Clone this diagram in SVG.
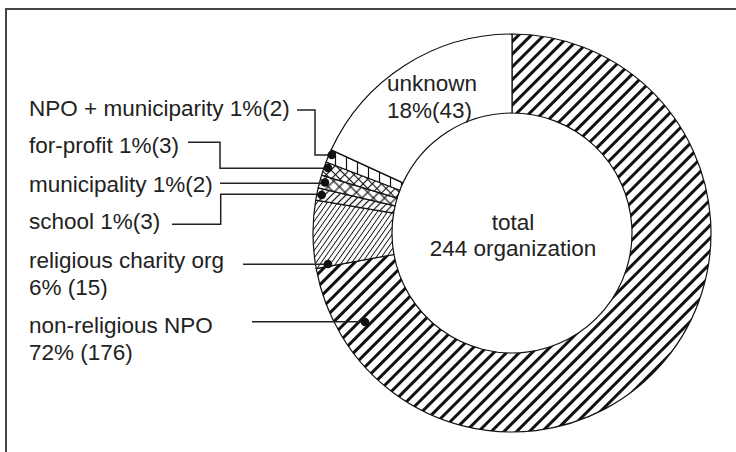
<svg xmlns="http://www.w3.org/2000/svg" width="736" height="452" viewBox="0 0 736 452">
  <style>
    .lbl { font-family: "Liberation Sans", Arial, sans-serif; font-size: 22.5px; fill: #222; }
    .slice { stroke: #111; stroke-width: 1.2; stroke-linejoin: round; }
    .lead { fill: none; stroke: #222; stroke-width: 1.5; }
    .dot { fill: #111; }
    .frame { stroke: #444; stroke-width: 2; fill: none; }
  </style>
  <defs>
    <!-- thick forward-slash hatch -->
    <pattern id="hatchThick" width="9" height="9" patternUnits="userSpaceOnUse" patternTransform="rotate(-45)">
      <rect width="9" height="9" fill="#fff"/>
      <line x1="0" y1="4.5" x2="9" y2="4.5" stroke="#111" stroke-width="3"/>
    </pattern>
    <!-- fine forward-slash hatch -->
    <pattern id="hatchFine" width="4.2" height="4.2" patternUnits="userSpaceOnUse" patternTransform="rotate(-55)">
      <rect width="4.2" height="4.2" fill="#fff"/>
      <line x1="0" y1="2.1" x2="4.2" y2="2.1" stroke="#111" stroke-width="0.9"/>
    </pattern>
    <!-- medium forward-slash hatch -->
    <pattern id="hatchMed" width="5" height="5" patternUnits="userSpaceOnUse" patternTransform="rotate(-45)">
      <rect width="5" height="5" fill="#fff"/>
      <line x1="0" y1="2.5" x2="5" y2="2.5" stroke="#111" stroke-width="1.2"/>
    </pattern>
    <!-- diagonal cross hatch -->
    <pattern id="crossBig" width="8" height="8" patternUnits="userSpaceOnUse" patternTransform="rotate(45)">
      <rect width="8" height="8" fill="#fff"/>
      <line x1="0" y1="4" x2="8" y2="4" stroke="#111" stroke-width="1.2"/>
      <line x1="4" y1="0" x2="4" y2="8" stroke="#111" stroke-width="1.2"/>
    </pattern>
    <pattern id="crossSmall" width="6.5" height="6.5" patternUnits="userSpaceOnUse" patternTransform="rotate(45)">
      <rect width="6.5" height="6.5" fill="#fff"/>
      <line x1="0" y1="3.25" x2="6.5" y2="3.25" stroke="#111" stroke-width="1.1"/>
      <line x1="3.25" y1="0" x2="3.25" y2="6.5" stroke="#111" stroke-width="1.1"/>
    </pattern>
    <!-- vertical lines -->
    <pattern id="vlines" width="11" height="11" patternUnits="userSpaceOnUse">
      <rect width="11" height="11" fill="#fff"/>
      <line x1="5.5" y1="0" x2="5.5" y2="11" stroke="#111" stroke-width="1.2"/>
    </pattern>
  </defs>

  <rect width="736" height="452" fill="#fff"/>
  <!-- outer frame (top and left edges) -->
  <path class="frame" d="M5 9 H736 M6 8 V452"/>

  <!-- donut ring: centre (512,233), outer r 199, inner r 120 -->
  <g id="slice-nonreligious">
    <path class="slice" fill="url(#hatchThick)" d="M512 34 A199 199 0 1 1 316.22 268.68 L393.94 254.51 A120 120 0 1 0 512 113 Z"/>
  </g>
  <g id="slice-religious">
    <path class="slice" fill="url(#hatchFine)" d="M316.22 268.68 A199 199 0 0 1 315.73 200.16 L393.65 213.19 A120 120 0 0 0 393.94 254.51 Z"/>
  </g>
  <g id="slice-school">
    <path class="slice" fill="url(#hatchMed)" d="M315.73 200.16 A199 199 0 0 1 318.18 187.90 L395.12 205.80 A120 120 0 0 0 393.65 213.19 Z"/>
  </g>
  <g id="slice-municipality">
    <path class="slice" fill="url(#crossBig)" d="M318.18 187.90 A199 199 0 0 1 321.59 175.15 L397.18 198.12 A120 120 0 0 0 395.12 205.80 Z"/>
  </g>
  <g id="slice-forprofit">
    <path class="slice" fill="url(#crossSmall)" d="M321.59 175.15 A199 199 0 0 1 326.09 162.01 L399.90 190.19 A120 120 0 0 0 397.18 198.12 Z"/>
  </g>
  <g id="slice-npo-municipality">
    <path class="slice" fill="url(#vlines)" d="M326.09 162.01 A199 199 0 0 1 331.21 149.84 L402.98 182.86 A120 120 0 0 0 399.90 190.19 Z"/>
  </g>
  <g id="slice-unknown">
    <path class="slice" fill="#fff" d="M331.21 149.84 A199 199 0 0 1 512 34 L512 113 A120 120 0 0 0 402.98 182.86 Z"/>
    <text class="lbl" x="387" y="91">unknown</text>
    <text class="lbl" x="387" y="117.5">18%(43)</text>
  </g>

  <g id="center-label">
    <text class="lbl" x="513" y="230" text-anchor="middle">total</text>
    <text class="lbl" x="513" y="256" text-anchor="middle">244 organization</text>
  </g>

  <!-- leader lines -->
  <g id="connectors">
    <polyline class="lead" points="297,110 315,110 315,155 331.7,155"/>
    <polyline class="lead" points="188,142.3 220,142.3 220,168.3 328,168.3"/>
    <polyline class="lead" points="220,183.3 325,183.3"/>
    <polyline class="lead" points="172,224.3 220.7,224.3 220.7,194.3 321.7,194.3"/>
    <polyline class="lead" points="243,264.3 328,264.3"/>
    <polyline class="lead" points="252,321.7 365,321.7"/>
    <circle class="dot" cx="331.7" cy="155" r="4.3"/>
    <circle class="dot" cx="328" cy="168" r="4.3"/>
    <circle class="dot" cx="325" cy="182.5" r="4.3"/>
    <circle class="dot" cx="321.7" cy="195" r="4.3"/>
    <circle class="dot" cx="328" cy="264" r="4.3"/>
    <circle class="dot" cx="365" cy="322" r="4.3"/>
  </g>

  <g id="label-npo-municipality"><text class="lbl" x="29" y="116">NPO + municiparity 1%(2)</text></g>
  <g id="label-forprofit"><text class="lbl" x="29" y="153">for-profit 1%(3)</text></g>
  <g id="label-municipality"><text class="lbl" x="29" y="191.5">municipality 1%(2)</text></g>
  <g id="label-school"><text class="lbl" x="29" y="229">school 1%(3)</text></g>
  <g id="label-religious">
    <text class="lbl" x="29" y="268">religious charity org</text>
    <text class="lbl" x="29" y="295">6% (15)</text>
  </g>
  <g id="label-nonreligious">
    <text class="lbl" x="29" y="332.5">non-religious NPO</text>
    <text class="lbl" x="29" y="360">72% (176)</text>
  </g>
</svg>
